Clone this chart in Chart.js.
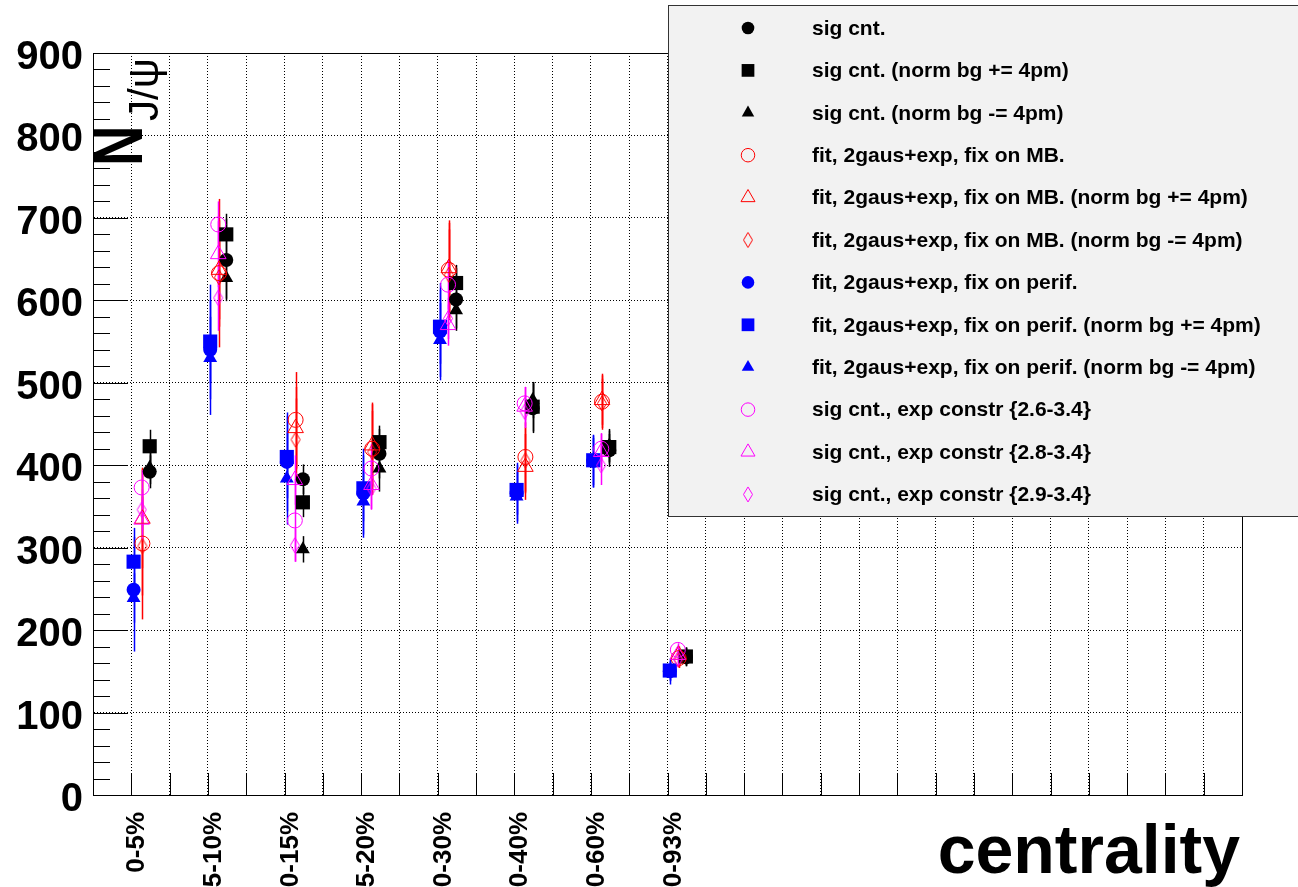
<!DOCTYPE html>
<html>
<head>
<meta charset="utf-8">
<title>N J/psi vs centrality</title>
<script src="https://cdn.jsdelivr.net/npm/chart.js@4.4.1/dist/chart.umd.min.js"></script>
<style>
  html, body { margin: 0; padding: 0; background: #fff; }
  #wrap { width: 1298px; height: 887px; position: relative; overflow: hidden; }
</style>
</head>
<body>
<div id="wrap"><canvas id="chart" width="1298" height="887"></canvas></div>
<script>
// ---- data ----
const categories = ['0-5%', '5-10%', '10-15%', '15-20%', '20-30%', '30-40%', '40-60%', '60-93%'];
const yTickValues = [0, 100, 200, 300, 400, 500, 600, 700, 800, 900];

const sigCnt        = [392, 649, 383, 414, 601, 469, 418, 167];
const sigCntErr     = [20, 50, 18, 30, 38, 30, 20, 11];
const sigCntUp      = [423, 680, 355, 428, 621, 471, 422, 168];
const sigCntUpErr   = [20, 25, 18, 20, 22, 30, 20, 11];
const sigCntDn      = [397, 627, 298, 396, 588, 479, 424, 168];
const sigCntDnErr   = [20, 25, 16, 28, 22, 22, 20, 11];

const fitMB         = [305, 633, 455, 420, 637, 410, 477, 166];
const fitMBErr      = [92, 90, 58, 56, 60, 42, 34, 10];
const fitMBUp       = [335, 637, 445, 424, 639, 398, 479, 170];
const fitMBUpErr    = [60, 60, 50, 50, 55, 40, 30, 10];
const fitMBDn       = [302, 628, 431, 416, 631, 406, 475, 164];
const fitMBDnErr    = [60, 60, 50, 50, 55, 40, 30, 10];

const fitPerif      = [249, 540, 404, 366, 562, 366, 405, 150];
const fitPerifErr   = [75, 79, 60, 54, 59, 37, 32, 16];
const fitPerifUp    = [283, 550, 410, 372, 568, 370, 406, 151];
const fitPerifUpErr = [30, 50, 50, 40, 45, 30, 30, 12];
const fitPerifDn    = [239, 530, 384, 356, 552, 362, 403, 150];
const fitPerifDnErr = [30, 50, 56, 40, 45, 30, 30, 12];

const expC26        = [373, 692, 333, 396, 619, 475, 420, 176];
const expC26Err     = [21, 28, 50, 30, 30, 20, 19, 8];
const expC28        = [334, 656, 382, 376, 570, 471, 416, 170];
const expC28Err     = [25, 40, 30, 30, 25, 24, 22, 10];
const expC29        = [346, 603, 303, 372, 578, 465, 400, 165];
const expC29Err     = [25, 40, 20, 25, 25, 20, 24, 10];

// ---- styling ----
const FONT = "'Liberation Sans', Arial, Helvetica, sans-serif";
const RED = '#ff0000', BLUE = '#0000ff', MAG = '#ff00ff', BLK = '#000000';

function diamond(color) {
  const c = document.createElement('canvas');
  c.width = 12; c.height = 17;
  const g = c.getContext('2d');
  g.strokeStyle = color; g.lineWidth = 1;
  g.beginPath();
  g.moveTo(6, 1); g.lineTo(10.5, 8.5); g.lineTo(6, 16); g.lineTo(1.5, 8.5); g.closePath();
  g.stroke();
  return c;
}

// label, values, errors, color, marker, radius, filled, x shift inside the bin
const series = [
  ['sig cnt.', sigCnt, sigCntErr, BLK, 'circle', 7, true, 0.48],
  ['sig cnt. (norm bg += 4pm)', sigCntUp, sigCntUpErr, BLK, 'rect', 10, true, 0.48],
  ['sig cnt. (norm bg -= 4pm)', sigCntDn, sigCntDnErr, BLK, 'triangle', 8, true, 0.48],
  ['fit, 2gaus+exp, fix on MB.', fitMB, fitMBErr, RED, 'circle', 7.5, false, 0.29],
  ['fit, 2gaus+exp, fix on MB. (norm bg += 4pm)', fitMBUp, fitMBUpErr, RED, 'triangle', 9, false, 0.29],
  ['fit, 2gaus+exp, fix on MB. (norm bg -= 4pm)', fitMBDn, fitMBDnErr, RED, diamond(RED), 8, false, 0.29],
  ['fit, 2gaus+exp, fix on perif.', fitPerif, fitPerifErr, BLUE, 'circle', 7, true, 0.06],
  ['fit, 2gaus+exp, fix on perif. (norm bg += 4pm)', fitPerifUp, fitPerifUpErr, BLUE, 'rect', 10, true, 0.06],
  ['fit, 2gaus+exp, fix on perif. (norm bg -= 4pm)', fitPerifDn, fitPerifDnErr, BLUE, 'triangle', 8, true, 0.06],
  ['sig cnt., exp constr {2.6-3.4}', expC26, expC26Err, MAG, 'circle', 7.5, false, 0.27],
  ['sig cnt., exp constr {2.8-3.4}', expC28, expC28Err, MAG, 'triangle', 9, false, 0.27],
  ['sig cnt., exp constr {2.9-3.4}', expC29, expC29Err, MAG, diamond(MAG), 8, false, 0.27],
];

// each centrality bin is 2 units wide on a 0..30 axis, label at the bin centre
const binCentre = i => 2 * i + 1;

const datasets = series.map(([label, vals, errs, color, marker, r, filled, dx], k) => ({
  label,
  data: vals.map((v, i) => ({ x: binCentre(i) + dx, y: v })),
  errors: errs,
  pointStyle: marker,
  pointRadius: r,
  pointHoverRadius: r,
  pointBackgroundColor: filled ? color : 'rgba(0,0,0,0)',
  pointBorderColor: color,
  pointBorderWidth: filled ? 0 : 1,
  borderColor: color,
  showLine: false,
  order: series.length - k,
}));

// vertical error bars drawn through the chart scales
const errorBars = {
  id: 'errorBars',
  beforeDatasetsDraw(chart) {
    const { ctx, scales: { x, y } } = chart;
    ctx.save();
    ctx.lineWidth = 1.5;
    chart.data.datasets.forEach((ds) => {
      ctx.strokeStyle = ds.borderColor;
      ds.data.forEach((p, j) => {
        const e = ds.errors[j];
        const px = Math.round(x.getPixelForValue(p.x)) + 0.5;
        ctx.beginPath();
        ctx.moveTo(px, y.getPixelForValue(p.y - e));
        ctx.lineTo(px, y.getPixelForValue(p.y + e));
        ctx.stroke();
      });
    });
    ctx.restore();
  }
};

// ROOT-style frame and inward ticks
const frame = {
  id: 'frame',
  beforeDatasetsDraw(chart) {
    const { ctx, chartArea: a, scales: { x, y } } = chart;
    ctx.save();
    ctx.strokeStyle = '#000';
    ctx.lineWidth = 1;
    ctx.beginPath();
    for (let v = y.min; v <= y.max; v += 20) {
      const py = Math.round(y.getPixelForValue(v)) + 0.5;
      ctx.moveTo(a.left, py);
      ctx.lineTo(a.left + (v % 100 === 0 ? 35 : 17), py);
    }
    for (let v = x.min + 1; v < x.max; v++) {
      const px = Math.round(x.getPixelForValue(v)) + 0.5;
      ctx.moveTo(px, a.bottom);
      ctx.lineTo(px, a.bottom - 22);
    }
    ctx.stroke();
    ctx.strokeRect(Math.round(a.left) + 0.5, Math.round(a.top) + 0.5,
      Math.round(a.right - a.left), Math.round(a.bottom - a.top));
    ctx.restore();
  }
};

// axis titles and the legend box
const decorations = {
  id: 'decorations',
  afterDraw(chart) {
    const ctx = chart.ctx;
    ctx.save();
    ctx.fillStyle = '#000';
    ctx.textBaseline = 'alphabetic';

    // N_{J/psi}
    ctx.save();
    ctx.translate(142, 166);
    ctx.rotate(-Math.PI / 2);
    ctx.scale(0.8, 1);
    ctx.font = 'bold 70px ' + FONT;
    ctx.fillText('N', 0, 0);
    ctx.restore();
    ctx.save();
    ctx.translate(158, 121);
    ctx.rotate(-Math.PI / 2);
    ctx.font = '42px ' + FONT;
    ctx.fillText('J/ψ', 0, 0);
    ctx.restore();

    // centrality
    ctx.font = 'bold 68px ' + FONT;
    ctx.textAlign = 'right';
    ctx.fillText('centrality', 1240, 873);

    // legend
    ctx.fillStyle = '#f2f2f2';
    ctx.fillRect(668, 5, 640, 512);
    ctx.strokeStyle = '#333';
    ctx.lineWidth = 1;
    ctx.strokeRect(668.5, 5.5, 640, 511);
    ctx.font = 'bold 21px ' + FONT;
    ctx.textAlign = 'left';
    ctx.textBaseline = 'middle';
    chart.data.datasets.forEach((ds, i) => {
      const rowY = 28 + i * 42.4;
      ctx.fillStyle = ds.pointBackgroundColor;
      ctx.strokeStyle = ds.pointBorderColor;
      ctx.lineWidth = ds.pointBorderWidth;
      Chart.helpers.drawPoint(ctx, {
        pointStyle: ds.pointStyle, radius: ds.pointRadius * 0.9,
        borderWidth: ds.pointBorderWidth, rotation: 0
      }, 748, rowY);
      ctx.fillStyle = '#000';
      ctx.fillText(ds.label, 812, rowY + 1);
    });
    ctx.restore();
  }
};

const gridDash = [1, 2];

new Chart(document.getElementById('chart'), {
  type: 'scatter',
  data: { datasets },
  plugins: [errorBars, frame, decorations],
  options: {
    responsive: false,
    animation: false,
    events: [],
    layout: { padding: { top: 53, right: 56, left: 0, bottom: 0 } },
    plugins: { legend: { display: false }, tooltip: { enabled: false } },
    scales: {
      x: {
        type: 'linear', min: 0, max: 30,
        grid: { color: '#000', lineWidth: 1, drawTicks: false },
        border: { display: true, color: '#000', width: 1, dash: gridDash },
        ticks: {
          stepSize: 1, autoSkip: false, minRotation: 90, maxRotation: 90,
          padding: 17, labelOffset: 6, color: '#000',
          font: { family: FONT, size: 26, weight: 'bold' },
          callback: (v) => (v % 2 === 1 ? categories[(v - 1) / 2] || '' : '')
        },
        afterFit(s) { s.height = 92; s.paddingLeft = 0; s.paddingRight = 0; }
      },
      y: {
        type: 'linear', min: 0, max: 900,
        grid: { color: '#000', lineWidth: 1, drawTicks: false },
        border: { display: true, color: '#000', width: 1, dash: gridDash },
        afterBuildTicks(s) { s.ticks = yTickValues.map(v => ({ value: v })); },
        ticks: {
          autoSkip: false, padding: 10, labelOffset: 5, color: '#000',
          font: { family: FONT, size: 40, weight: 'bold' }
        },
        afterFit(s) { s.width = 93; s.paddingTop = 0; s.paddingBottom = 0; }
      }
    }
  }
});
</script>
</body>
</html>
